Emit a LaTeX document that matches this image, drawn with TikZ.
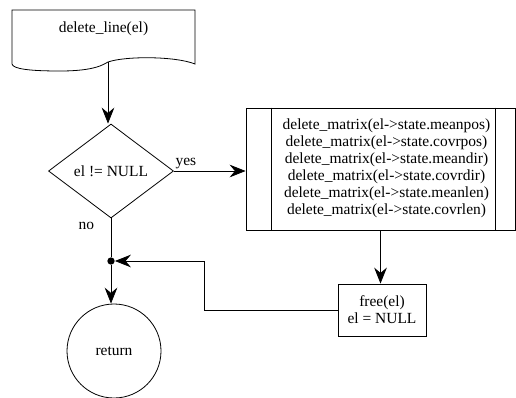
\documentclass[tikz,border=0pt]{standalone}
\usepackage{fontspec}
\setmainfont{Liberation Serif}
\usepackage{tikz}
\usetikzlibrary{shapes.geometric, arrows.meta, positioning, calc}
\tikzstyle{decision} = [diamond, draw, aspect=1.33, minimum width=93.75pt, minimum height=70.5pt, inner sep=0pt, line width=0.6pt]
\tikzstyle{process} = [rectangle, draw, align=center, inner sep=0pt, line width=0.6pt]
\tikzstyle{term} = [circle, draw, minimum size=70.5pt, inner sep=0pt, line width=0.6pt]
\tikzstyle{line} = [draw, line width=0.6pt]
\tikzstyle{arrow} = [line, -{Stealth[length=12pt, width=9.5pt, inset=4pt]}]

\begin{document}
\begin{tikzpicture}[x=0.75pt, y=-0.75pt, font=\fontsize{11.6}{12.75}\selectfont]
    \useasboundingbox (0,0) rectangle (516,397);

    % entry: document-like box with a wavy bottom
    \node (start) at (103.5,29) {delete\_line(el)};
    \draw[line] (12,64) -- (12,10) -- (195,10) -- (195,64)
        .. controls (175,56) and (125,56) .. (108,62)
        .. controls (104,64) and (96,71) .. (60,71)
        .. controls (30,71) and (13,69) .. (12,64);
    \coordinate (start-out) at (108,62);

    \node (cond) [decision] at (111,171) {el != NULL};
    % predefined process: text sits between the two inner bars
    \node (proc) [process, minimum width=201.75pt, minimum height=91.5pt] at (380.5,169)
        {\hspace*{9pt}\begin{tabular}{@{}c@{}}
         delete\_matrix(el->state.meanpos)\\
         delete\_matrix(el->state.covrpos)\\
         delete\_matrix(el->state.meandir)\\
         delete\_matrix(el->state.covrdir)\\
         delete\_matrix(el->state.meanlen)\\
         delete\_matrix(el->state.covrlen)
         \end{tabular}};
    \draw[line] ([xshift=19.5pt]proc.north west) -- ([xshift=19.5pt]proc.south west);
    \draw[line] ([xshift=-15pt]proc.north east) -- ([xshift=-15pt]proc.south east);

    \node (free) [process, minimum width=66pt, minimum height=39pt] at (382,310) {free(el)\\el = NULL};
    \node (junc) [circle, fill, inner sep=0pt, minimum size=5.5pt] at (111,261) {};
    \node (ret) [term] at (114,351) {return};
    \coordinate (bend) at (204,261);

    \draw[arrow] (start-out) -- (start-out |- cond.north);
    \draw[arrow] (cond.east) -- node[pos=0, above right, inner sep=1pt] {yes} (cond.east -| proc.west);
    \draw[line] (cond.south) -- node[pos=0.2, left=9pt] {no} (junc);
    \draw[arrow] (junc) -- (junc |- ret.north);
    \draw[arrow] (proc.south) -- (proc.south |- free.north);
    \draw[arrow] (free.west) -| (bend) -- (junc);
\end{tikzpicture}
\end{document}
